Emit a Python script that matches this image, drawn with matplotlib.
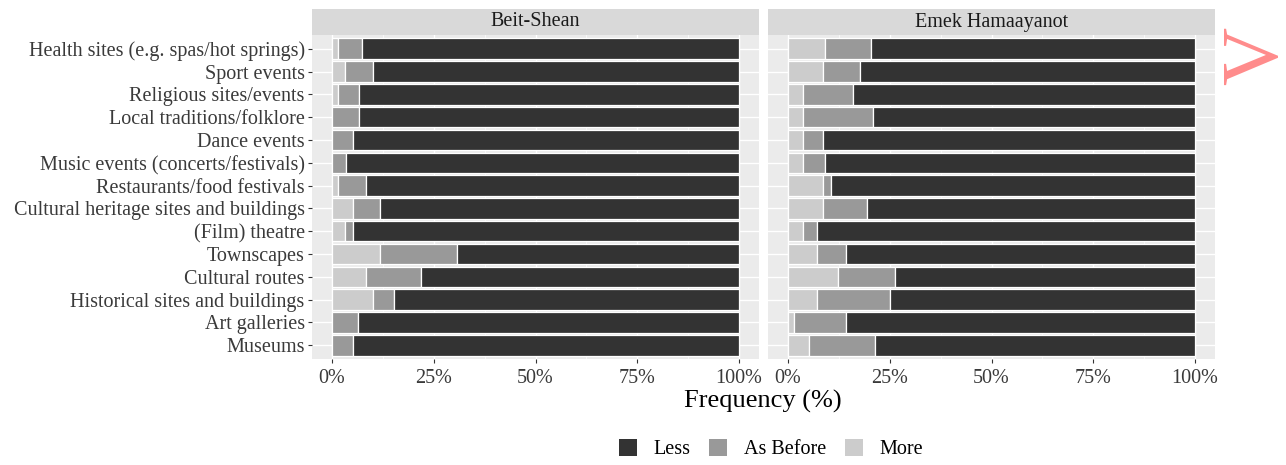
import numpy as np
import matplotlib.pyplot as plt
from matplotlib.patches import Patch

plt.rcParams['font.family'] = ['Liberation Serif', 'DejaVu Serif']

# categories, top to bottom
categories = ['Health sites (e.g. spas/hot springs)', 'Sport events',
              'Religious sites/events', 'Local traditions/folklore',
              'Dance events', 'Music events (concerts/festivals)',
              'Restaurants/food festivals', 'Cultural heritage sites and buildings',
              '(Film) theatre', 'Townscapes', 'Cultural routes',
              'Historical sites and buildings', 'Art galleries', 'Museums']
panels = ['Beit-Shean', 'Emek Hamaayanot']

# Beit-Shean (%)
more_bs = [1.6, 3.3, 1.6, 0, 0, 0, 1.6, 5.1, 3.3, 11.8, 8.4, 10.1, 0, 0]
asb_bs = [5.9, 6.8, 5.1, 6.7, 5.1, 3.4, 6.8, 6.7, 1.8, 18.9, 13.5, 5.1, 6.5, 5.1]
less_bs = [92.5, 89.9, 93.3, 93.3, 94.9, 96.6, 91.6, 88.2, 94.9, 69.3, 78.1, 84.8, 93.5, 94.9]

# Emek Hamaayanot (%)
more_eh = [9.1, 8.6, 3.6, 3.6, 3.6, 3.6, 8.6, 8.6, 3.6, 7.2, 12.2, 7.2, 1.6, 5.2]
asb_eh = [11.4, 9.0, 12.5, 17.4, 5.0, 5.5, 2.0, 10.7, 3.6, 7.0, 14.0, 17.9, 12.6, 16.3]
less_eh = [79.5, 82.4, 83.9, 79.0, 91.4, 90.9, 89.4, 80.7, 92.8, 85.8, 73.8, 74.9, 85.8, 78.5]

legend_labels = ['Less', 'As Before', 'More']
colors = {'Less': '#333333', 'As Before': '#999999', 'More': '#CCCCCC'}

W, H = 1286, 465
fig = plt.figure(figsize=(W / 100, H / 100), dpi=100)

def fx(px):
    return px / W

def fy(px):
    return 1 - px / H

panel_top, panel_bot = 35, 359
strip_top = 9
lefts = [311.6, 767.6]
pw = 447.8

data = [(more_bs, asb_bs, less_bs), (more_eh, asb_eh, less_eh)]
y = np.arange(len(categories))

for i, (title, (more, asb, less)) in enumerate(zip(panels, data)):
    ax = fig.add_axes([fx(lefts[i]), fy(panel_bot), fx(pw), (panel_bot - panel_top) / H])
    ax.set_facecolor('#EBEBEB')
    more = np.array(more)
    asb = np.array(asb)
    less = np.array(less)
    kw = dict(height=0.9, edgecolor='white', linewidth=0.9)
    ax.barh(y, more, left=0, color=colors['More'], **kw)
    ax.barh(y, asb, left=more, color=colors['As Before'], **kw)
    ax.barh(y, less, left=more + asb, color=colors['Less'], **kw)
    ax.set_xlim(-5, 105)
    ax.set_ylim(len(categories) - 0.4, -0.6)
    ax.set_xticks([0, 25, 50, 75, 100])
    ax.set_xticklabels(['0%', '25%', '50%', '75%', '100%'])
    ax.set_xticks([12.5, 37.5, 62.5, 87.5], minor=True)
    ax.set_yticks(y)
    ax.set_axisbelow(True)
    ax.grid(True, which='major', color='white', linewidth=1.0)
    ax.grid(True, which='minor', axis='x', color='white', linewidth=0.5)
    for s in ax.spines.values():
        s.set_visible(False)
    ax.tick_params(axis='both', which='major', length=3, color='#333333',
                   labelcolor='#3A3A3A', labelsize=14.5, pad=2)
    ax.tick_params(axis='x', pad=4)
    ax.tick_params(which='minor', length=0)
    if i == 0:
        ax.set_yticklabels(categories)
    else:
        ax.tick_params(axis='y', length=0, labelleft=False)

    # facet strip
    sax = fig.add_axes([fx(lefts[i]), fy(panel_top), fx(pw), (panel_top - strip_top) / H])
    sax.set_facecolor('#D9D9D9')
    sax.set_xticks([])
    sax.set_yticks([])
    for s in sax.spines.values():
        s.set_visible(False)
    sax.text(0.5, 0.5, title, ha='center', va='center', fontsize=14.5,
             color='#1A1A1A', transform=sax.transAxes)

fig.text(fx(763), fy(401), 'Frequency (%)', ha='center', va='center', fontsize=19)

handles = [Patch(facecolor=colors[k], edgecolor='none') for k in legend_labels]
fig.legend(handles, legend_labels, loc='center', bbox_to_anchor=(fx(771), fy(449)),
           ncol=3, frameon=False, fontsize=14.5, handlelength=0.9, handleheight=0.9,
           columnspacing=0.9, handletextpad=0.85)

# red stamp mark at the right edge
fig.text(fx(1258), fy(56), 'V', rotation=90, ha='center', va='center',
         fontsize=58, color='#FF7F7F', alpha=0.9)

fig.savefig('out.png', dpi=100)
